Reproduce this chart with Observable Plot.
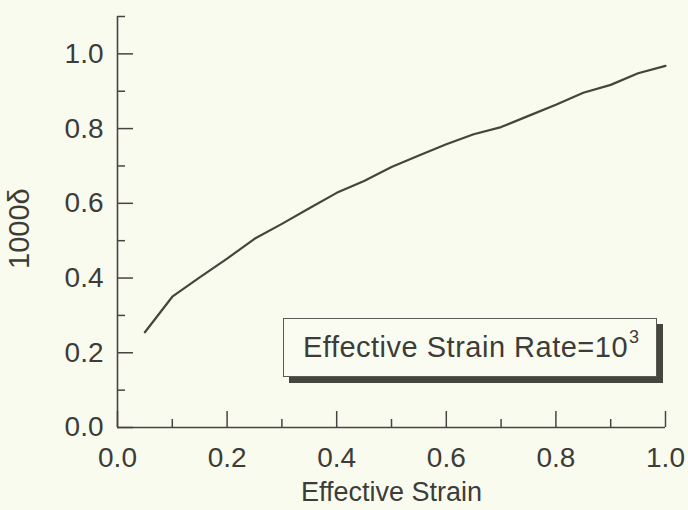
<!DOCTYPE html>
<html><head><meta charset="utf-8">
<script src="https://cdn.jsdelivr.net/npm/d3@7"></script>
<script src="https://cdn.jsdelivr.net/npm/@observablehq/plot@0.6"></script>
<style>
html,body{margin:0;padding:0;background:#fafbef;}
#chart{position:relative;width:688px;height:510px;overflow:hidden;}
#legend{position:absolute;left:283px;top:318px;width:374px;height:59px;border:1.2px solid #5a5a55;background:#fbfcf1;box-shadow:6px 6px 0 #46463f;font-family:"Liberation Sans",Arial,sans-serif;font-size:29px;letter-spacing:0.5px;color:#3c3c38;box-sizing:border-box;}
#legend span.t{position:absolute;left:19px;top:12px;white-space:nowrap;}
#legend sup{font-size:18px;position:relative;top:-4px;vertical-align:top;margin-left:1px;}
</style></head><body><div id="chart"></div>
<script>
const strain = [0.05,0.10,0.15,0.20,0.25,0.30,0.35,0.40,0.45,0.50,0.55,0.60,0.65,0.70,0.75,0.80,0.85,0.90,0.95,1.00];
const delta  = [0.255,0.350,0.402,0.452,0.505,0.545,0.587,0.628,0.660,0.697,0.728,0.758,0.785,0.804,0.834,0.864,0.896,0.917,0.948,0.968];
const majorTicks = [0,0.2,0.4,0.6,0.8,1.0];
const xMinorTicks = [0.1,0.3,0.5,0.7,0.9];
const yMinorTicks = [0.1,0.3,0.5,0.7,0.9,1.1];
const xLabel = "Effective Strain";
const yLabel = "1000δ";
const legendText = "Effective Strain Rate=10";
const legendExp = "3";

const data = strain.map((x, i) => ({x, y: delta[i]}));
const ink = "#3c3c38";
const axisInk = "#4a4343";
const fmt = d3.format(".1f");

const W = 688, H = 510, mL = 117, mR = 23, mT = 16, mB = 83;
const frameW = W - mL - mR, frameH = H - mT - mB;
const majorLen = 16, minorLen = 8;

const plot = Plot.plot({
  width: W,
  height: H,
  marginLeft: mL,
  marginRight: mR,
  marginTop: mT,
  marginBottom: mB,
  style: {background: "transparent", fontFamily: "'Liberation Sans', Arial, sans-serif", fontSize: "28px", color: ink},
  x: {domain: [0, 1], axis: null},
  y: {domain: [0, 1.1], axis: null},
  marks: [
    Plot.ruleX([0], {y1: 0, y2: 1.1, stroke: axisInk, strokeWidth: 1.6}),
    Plot.ruleY([0], {x1: 0, x2: 1, stroke: axisInk, strokeWidth: 1.6}),
    Plot.ruleY(majorTicks, {y: d => d, insetRight: frameW - majorLen, stroke: axisInk, strokeWidth: 1.5}),
    Plot.ruleY(yMinorTicks, {y: d => d, insetRight: frameW - minorLen, stroke: axisInk, strokeWidth: 1.5}),
    Plot.ruleX(majorTicks, {x: d => d, insetTop: frameH - majorLen, stroke: axisInk, strokeWidth: 1.5}),
    Plot.ruleX(xMinorTicks, {x: d => d, insetTop: frameH - minorLen, stroke: axisInk, strokeWidth: 1.5}),
    Plot.text(majorTicks, {y: d => d, frameAnchor: "left", textAnchor: "end", dx: -14, text: fmt, fill: ink, fontSize: 28}),
    Plot.text(majorTicks, {x: d => d, frameAnchor: "bottom", lineAnchor: "top", dy: 20, text: fmt, fill: ink, fontSize: 28}),
    Plot.text([xLabel], {frameAnchor: "bottom", lineAnchor: "middle", dy: 65, fill: ink, fontSize: 27}),
    Plot.text([yLabel], {frameAnchor: "left", rotate: -90, dx: -98, dy: 47, fill: ink, fontSize: 29}),
    Plot.line(data, {x: "x", y: "y", stroke: "#45453d", strokeWidth: 2.2})
  ]
});
const chart = document.getElementById("chart");
chart.appendChild(plot);
const lg = document.createElement("div");
lg.id = "legend";
const sp = document.createElement("span");
sp.className = "t";
sp.appendChild(document.createTextNode(legendText));
const sup = document.createElement("sup");
sup.textContent = legendExp;
sp.appendChild(sup);
lg.appendChild(sp);
chart.appendChild(lg);
</script></body></html>
